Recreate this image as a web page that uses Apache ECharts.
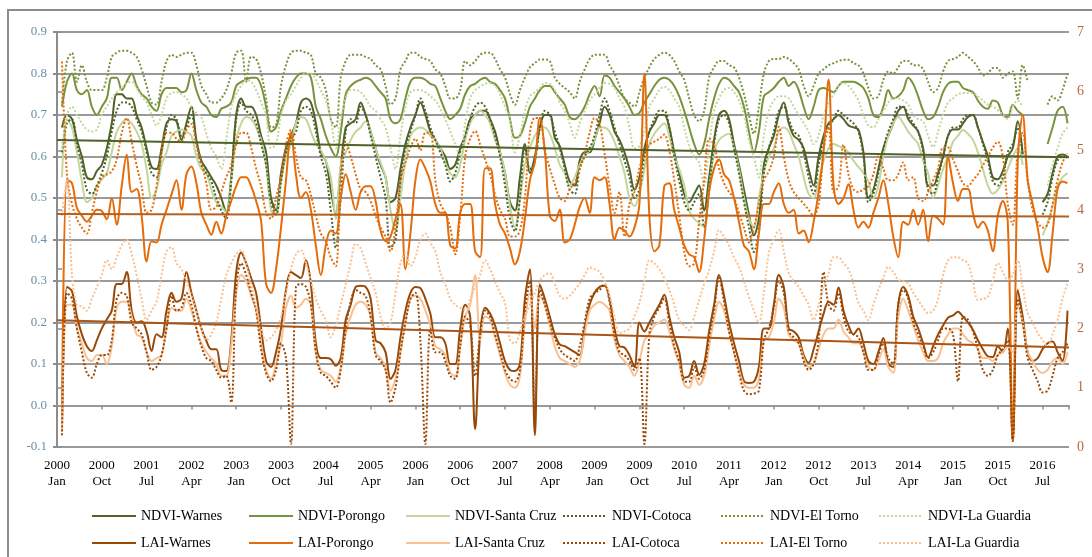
<!DOCTYPE html>
<html>
<head>
<meta charset="utf-8">
<script src="https://cdn.jsdelivr.net/npm/echarts@6/dist/echarts.min.js"></script>
<style>
html, body { margin: 0; padding: 0; background: #ffffff; }
#chart { width: 1092px; height: 557px; }
</style>
</head>
<body>
<div id="chart"></div>
<script>
// Axis tick labels, one every 9 months from January 2000
const tickYears = ['2000','2000','2001','2002','2003','2003','2004','2005','2006','2006','2007','2008',
                   '2009','2009','2010','2011','2012','2012','2013','2014','2015','2015','2016'];
const tickMonths = ['Jan','Oct','Jul','Apr','Jan','Oct','Jul','Apr','Jan','Oct','Jul','Apr',
                    'Jan','Oct','Jul','Apr','Jan','Oct','Jul','Apr','Jan','Oct','Jul'];

// Monthly values, Jan 2000 .. Dec 2016 (one row per year). NDVI on the left axis.
const ndviWarnes = [
null,0.67,0.70,0.69,0.64,0.60,0.55,0.545,0.565,0.58,0.62,0.68,
0.75,0.75,0.74,0.74,0.70,0.67,0.62,0.575,0.57,0.62,0.68,0.69,
0.685,0.64,0.68,0.72,0.64,0.59,0.57,0.55,0.53,0.50,0.465,0.55,
0.70,0.74,0.72,0.72,0.70,0.65,0.61,0.50,0.47,0.56,0.62,0.65,
0.68,0.73,0.74,0.73,0.68,0.61,0.59,0.52,0.46,0.57,0.67,0.68,
0.69,0.73,0.70,0.66,0.62,0.58,0.55,0.49,0.50,0.57,0.63,0.67,
0.70,0.73,0.70,0.66,0.64,0.62,0.60,0.57,0.58,0.62,0.65,0.69,
0.70,0.71,0.71,0.69,0.66,0.61,0.56,0.49,0.47,0.55,0.63,0.56,
0.60,0.67,0.70,0.70,0.645,0.625,0.58,0.54,0.53,0.59,0.61,0.61,
0.64,0.68,0.72,0.70,0.66,0.64,0.61,0.57,0.52,0.55,0.62,0.66,
0.68,0.70,0.70,0.67,0.61,0.56,0.51,0.49,0.51,0.53,0.47,0.55,
0.64,0.70,0.71,0.69,0.63,0.58,0.52,0.46,0.41,0.45,0.58,0.62,
0.65,0.70,0.73,0.68,0.65,0.64,0.62,0.57,0.53,0.60,0.65,0.68,
0.69,0.70,0.69,0.675,0.67,0.665,0.61,0.50,0.52,0.57,0.62,0.65,
0.68,0.71,0.72,0.69,0.675,0.66,0.62,0.53,0.53,0.56,0.60,0.65,
0.665,0.665,0.68,0.695,0.70,0.67,0.635,0.60,0.55,0.545,0.565,0.60,
0.62,0.685,0.605,null,null,null,0.49,0.51,0.56,0.60,0.605,0.60];

const ndviPorongo = [
null,0.72,0.78,0.80,0.76,0.75,0.76,0.72,0.70,0.72,0.74,0.79,
0.79,0.76,0.78,0.80,0.77,0.75,0.74,0.72,0.71,0.75,0.765,0.765,
0.765,0.755,0.76,0.80,0.76,0.73,0.72,0.70,0.695,0.715,0.72,0.73,
0.77,0.78,0.785,0.79,0.79,0.77,0.72,0.66,0.67,0.71,0.74,0.77,
0.79,0.80,0.80,0.79,0.72,0.69,0.65,0.62,0.60,0.66,0.75,0.77,
0.78,0.785,0.79,0.785,0.77,0.755,0.74,0.69,0.68,0.69,0.74,0.78,
0.79,0.79,0.785,0.775,0.77,0.74,0.71,0.69,0.70,0.715,0.75,0.77,
0.775,0.785,0.79,0.78,0.775,0.76,0.74,0.69,0.645,0.65,0.68,0.72,
0.74,0.76,0.77,0.77,0.755,0.74,0.725,0.695,0.69,0.70,0.72,0.75,
0.77,0.745,0.795,0.79,0.77,0.755,0.74,0.72,0.70,0.705,0.73,0.75,
0.77,0.785,0.79,0.785,0.77,0.745,0.71,0.67,0.63,0.605,0.63,0.69,
0.74,0.775,0.79,0.785,0.77,0.755,0.72,0.66,0.61,0.66,0.745,0.755,
0.765,0.78,0.79,0.77,0.78,0.76,0.72,0.69,0.72,0.76,0.765,0.76,
0.755,0.77,0.78,0.78,0.78,0.775,0.765,0.74,0.70,0.695,0.72,0.76,
0.74,0.745,0.76,0.79,0.775,0.745,0.71,0.69,0.695,0.72,0.755,0.775,
0.78,0.78,0.765,0.76,0.755,0.735,0.72,0.715,0.735,0.73,0.70,0.695,
0.725,0.71,0.70,null,null,null,null,0.63,0.67,0.71,0.72,0.68];

const ndviSantaCruz = [
null,0.55,0.69,0.67,0.61,0.54,0.49,0.50,0.53,0.545,0.56,0.61,
0.66,0.68,0.69,0.68,0.66,0.63,0.57,0.50,0.52,0.58,0.61,0.65,
0.66,0.665,0.66,0.65,0.60,0.57,0.56,0.52,0.49,0.48,0.465,0.54,
0.64,0.68,0.695,0.69,0.67,0.64,0.58,0.47,0.46,0.54,0.60,0.63,
0.68,0.695,0.69,0.66,0.63,0.615,0.59,0.55,0.45,0.58,0.61,0.64,
0.66,0.67,0.685,0.66,0.62,0.585,0.55,0.47,0.42,0.50,0.59,0.65,
0.665,0.67,0.665,0.65,0.64,0.62,0.585,0.56,0.55,0.58,0.64,0.68,
0.70,0.71,0.70,0.68,0.64,0.61,0.56,0.48,0.43,0.50,0.58,0.62,
0.65,0.665,0.67,0.655,0.62,0.58,0.56,0.53,0.55,0.58,0.60,0.615,
0.64,0.67,0.67,0.66,0.635,0.60,0.56,0.50,0.48,0.51,0.57,0.63,
0.655,0.67,0.68,0.65,0.60,0.57,0.53,0.47,0.45,0.44,0.43,0.52,
0.61,0.64,0.65,0.655,0.62,0.57,0.50,0.45,0.43,0.50,0.56,0.60,
0.62,0.66,0.67,0.66,0.63,0.60,0.55,0.51,0.50,0.54,0.59,0.62,
0.63,0.625,0.62,0.61,0.59,0.575,0.56,0.54,0.50,0.53,0.60,0.65,
0.68,0.695,0.68,0.66,0.645,0.63,0.59,0.56,0.50,0.53,0.57,0.60,
0.635,0.65,0.664,0.655,0.64,0.61,0.57,0.53,0.51,0.52,0.54,0.57,
0.60,0.62,0.58,null,null,null,0.41,0.44,0.48,0.53,0.55,0.56];

const ndviCotoca = [
null,0.61,0.68,0.69,0.63,0.58,0.52,0.51,0.53,0.56,0.60,0.66,
0.71,0.73,0.73,0.72,0.69,0.66,0.61,0.56,0.55,0.61,0.67,0.70,
0.69,0.65,0.67,0.70,0.63,0.58,0.56,0.54,0.50,0.47,0.45,0.54,
0.69,0.73,0.71,0.70,0.68,0.63,0.58,0.49,0.46,0.54,0.61,0.64,
0.66,0.71,0.72,0.71,0.66,0.60,0.56,0.47,0.38,0.50,0.66,0.69,
0.68,0.72,0.70,0.65,0.60,0.55,0.50,0.38,0.40,0.54,0.62,0.66,
0.70,0.74,0.71,0.67,0.64,0.61,0.58,0.54,0.56,0.61,0.65,0.69,
0.72,0.73,0.72,0.69,0.65,0.60,0.53,0.45,0.42,0.50,0.62,0.57,
0.59,0.67,0.71,0.70,0.66,0.62,0.57,0.52,0.51,0.57,0.60,0.62,
0.65,0.70,0.74,0.71,0.67,0.63,0.59,0.55,0.50,0.52,0.60,0.66,
0.69,0.71,0.71,0.67,0.60,0.54,0.49,0.47,0.49,0.51,0.43,0.52,
0.63,0.69,0.70,0.68,0.62,0.56,0.49,0.43,0.37,0.42,0.56,0.62,
0.66,0.71,0.72,0.69,0.66,0.65,0.61,0.55,0.51,0.58,0.64,0.67,
0.69,0.71,0.70,0.69,0.68,0.66,0.60,0.49,0.51,0.56,0.62,0.66,
0.69,0.72,0.72,0.70,0.68,0.66,0.61,0.52,0.51,0.55,0.60,0.65,
0.67,0.67,0.69,0.70,0.70,0.67,0.63,0.59,0.54,0.53,0.55,0.61,
0.63,0.67,0.60,null,null,null,0.46,0.49,0.55,0.59,0.60,0.60];

const ndviElTorno = [
null,0.73,0.83,0.85,0.78,0.82,0.78,0.76,0.76,0.76,0.79,0.84,
0.85,0.855,0.855,0.85,0.84,0.81,0.77,0.73,0.725,0.78,0.83,0.845,
0.84,0.845,0.85,0.85,0.82,0.77,0.75,0.73,0.73,0.74,0.76,0.80,
0.85,0.855,0.78,0.84,0.835,0.80,0.74,0.67,0.675,0.77,0.82,0.85,
0.855,0.855,0.85,0.845,0.80,0.79,0.76,0.69,0.67,0.79,0.83,0.845,
0.845,0.845,0.84,0.835,0.82,0.81,0.77,0.725,0.74,0.81,0.83,0.85,
0.85,0.84,0.835,0.83,0.81,0.80,0.77,0.74,0.74,0.76,0.83,0.82,
0.83,0.845,0.85,0.85,0.835,0.81,0.79,0.75,0.725,0.76,0.79,0.815,
0.825,0.834,0.834,0.83,0.79,0.775,0.765,0.755,0.74,0.78,0.81,0.835,
0.845,0.845,0.845,0.82,0.80,0.77,0.74,0.73,0.72,0.755,0.79,0.815,
0.835,0.845,0.85,0.845,0.83,0.805,0.785,0.74,0.70,0.685,0.71,0.79,
0.815,0.83,0.83,0.82,0.815,0.79,0.75,0.70,0.655,0.72,0.80,0.83,
0.835,0.835,0.84,0.835,0.825,0.81,0.77,0.745,0.77,0.80,0.81,0.82,
0.825,0.83,0.833,0.833,0.825,0.82,0.80,0.765,0.74,0.745,0.785,0.805,
0.80,0.815,0.83,0.83,0.82,0.82,0.81,0.78,0.755,0.765,0.805,0.83,
0.835,0.84,0.85,0.84,0.83,0.815,0.795,0.80,0.813,0.813,0.79,0.80,
0.805,0.74,0.82,0.78,null,null,null,0.725,0.745,0.735,0.76,0.80];

const ndviLaGuardia = [
null,0.62,0.70,0.72,0.70,0.68,0.665,0.66,0.665,0.70,0.72,0.74,
0.755,0.765,0.777,0.78,0.765,0.745,0.73,0.70,0.675,0.70,0.74,0.753,
0.755,0.75,0.74,0.72,0.705,0.695,0.655,0.62,0.60,0.57,0.64,0.72,
0.75,0.77,0.784,0.78,0.76,0.73,0.70,0.62,0.63,0.70,0.735,0.75,
0.77,0.79,0.80,0.80,0.785,0.76,0.735,0.69,0.62,0.69,0.74,0.76,
0.76,0.755,0.74,0.72,0.71,0.69,0.67,0.62,0.57,0.65,0.72,0.755,
0.76,0.76,0.755,0.745,0.735,0.715,0.69,0.66,0.63,0.60,0.68,0.74,
0.76,0.768,0.775,0.777,0.77,0.75,0.72,0.688,0.61,0.65,0.71,0.745,
0.755,0.765,0.777,0.775,0.76,0.73,0.71,0.68,0.645,0.68,0.71,0.735,
0.75,0.765,0.777,0.775,0.765,0.74,0.72,0.67,0.62,0.625,0.66,0.72,
0.74,0.76,0.768,0.76,0.74,0.72,0.67,0.625,0.60,0.585,0.53,0.62,
0.71,0.74,0.76,0.765,0.755,0.735,0.70,0.64,0.60,0.55,0.65,0.71,
0.735,0.745,0.745,0.74,0.72,0.70,0.68,0.66,0.63,0.65,0.70,0.73,
0.75,0.77,0.777,0.77,0.755,0.735,0.70,0.675,0.67,0.69,0.71,0.73,
0.74,0.74,0.735,0.725,0.70,0.69,0.685,0.65,0.623,0.66,0.70,0.73,
0.74,0.75,0.753,0.753,0.753,0.745,0.735,0.725,0.72,0.712,0.70,0.69,
0.72,0.735,0.72,null,null,null,null,0.53,0.58,0.62,0.655,0.67];

// LAI on the right axis
const laiWarnes = [
null,0.3,2.7,2.63,2.2,1.9,1.7,1.62,1.8,2.0,2.15,2.3,
2.75,2.75,2.95,2.3,2.1,2.12,1.95,1.62,1.9,1.85,2.3,2.6,
2.45,2.5,2.95,2.6,2.3,2.0,1.79,1.65,1.65,1.3,1.28,1.8,
2.95,3.28,3.1,2.85,2.6,2.0,1.45,1.35,1.6,2.0,2.65,2.95,
2.9,2.85,3.15,2.75,1.75,1.5,1.5,1.48,1.37,1.5,2.15,2.4,
2.7,2.72,2.7,2.5,1.8,1.75,1.6,1.15,1.3,1.85,2.3,2.6,
2.7,2.68,2.5,2.25,1.85,1.85,1.75,1.4,1.4,2.0,2.4,2.2,
0.3,1.9,2.35,2.25,2.05,1.75,1.45,1.3,1.28,1.4,2.5,3.0,
0.2,2.74,2.5,2.2,1.9,1.73,1.7,1.65,1.6,1.55,2.0,2.4,
2.6,2.7,2.72,2.5,2.0,1.7,1.68,1.55,1.35,2.1,1.95,2.1,
2.25,2.4,2.57,2.2,1.85,1.6,1.17,1.2,1.45,1.22,1.4,1.95,
2.4,2.9,2.55,2.1,1.75,1.45,1.11,1.08,1.1,1.35,2.0,2.0,
2.4,2.9,2.7,2.0,1.95,1.85,1.55,1.42,1.65,1.95,2.25,2.45,
2.4,2.69,2.3,2.05,1.9,2.0,1.75,1.45,1.4,1.6,1.84,1.4,
1.35,2.4,2.7,2.55,2.2,2.0,1.75,1.51,1.7,1.9,2.05,2.18,
2.22,2.28,2.2,2.1,1.98,1.8,1.65,1.53,1.52,1.7,1.6,2.0,
0.1,2.65,2.2,1.6,1.45,1.5,1.65,1.75,1.78,1.6,1.45,2.3];

const laiPorongo = [
null,0.3,4.5,4.45,4.03,3.9,3.8,3.9,4.0,3.98,3.84,4.2,
3.75,4.4,4.93,4.3,4.35,3.9,3.13,3.47,3.45,3.75,4.0,4.26,
4.5,4.0,4.6,4.73,4.45,3.95,3.75,3.58,3.8,3.6,3.9,4.15,
4.4,4.55,4.55,4.4,4.15,3.81,2.75,2.6,3.0,3.7,4.5,5.3,
4.6,4.2,4.3,4.0,3.4,2.9,3.4,3.65,3.6,4.2,4.6,4.3,
4.0,4.3,4.4,4.4,4.15,3.65,3.47,3.55,3.85,4.1,3.0,3.6,
4.5,4.85,4.7,4.48,4.1,3.95,3.95,3.4,3.35,3.95,4.1,4.1,
3.3,3.2,4.7,4.7,4.1,3.75,3.6,3.35,3.08,3.3,3.85,4.5,
4.8,5.55,5.0,3.9,3.81,4.0,3.45,3.5,3.75,4.05,4.2,3.95,
4.55,4.5,4.55,4.1,3.5,3.7,3.65,3.55,3.7,4.1,6.3,3.9,
3.3,3.4,4.4,4.45,4.0,3.7,3.4,3.25,3.2,2.95,3.5,4.3,
4.7,4.85,4.6,4.5,4.2,3.8,3.4,3.3,3.0,3.6,4.1,4.1,
4.3,4.45,4.1,3.95,4.0,3.6,3.65,3.45,3.8,4.3,5.0,6.2,
4.4,4.1,4.2,4.43,4.0,3.7,3.8,3.7,3.95,4.2,4.5,4.1,
3.55,3.2,3.8,3.75,4.0,3.75,4.0,3.47,3.9,3.85,3.75,4.9,
4.45,4.15,4.35,4.35,3.95,3.7,3.8,3.65,3.3,3.9,4.15,3.8,
0.1,4.8,5.6,4.5,4.1,3.7,3.2,2.95,3.6,4.35,4.48,4.45];

const laiSantaCruz = [
null,0.3,2.4,2.4,2.0,1.75,1.5,1.45,1.55,1.55,1.4,1.7,
2.35,2.45,2.45,2.2,1.9,1.85,1.6,1.45,1.5,1.55,2.0,2.35,
2.3,2.3,2.5,2.3,2.0,1.75,1.6,1.5,1.4,1.2,1.2,1.7,
2.6,2.9,2.8,2.55,2.3,1.75,1.3,1.15,1.4,1.75,2.35,2.55,
2.35,2.4,2.5,2.4,1.6,1.3,1.25,1.2,1.1,1.35,1.9,2.2,
2.4,2.45,2.4,2.2,1.6,1.5,1.35,0.95,1.15,1.6,2.1,2.5,
2.55,2.5,2.3,2.05,1.7,1.65,1.55,1.25,1.2,1.7,2.2,2.4,
2.9,1.8,2.2,2.15,1.85,1.55,1.25,1.05,1.0,1.2,2.1,2.6,
2.0,2.55,2.4,2.05,1.7,1.5,1.45,1.4,1.35,1.45,1.9,2.3,
2.4,2.45,2.4,2.3,1.8,1.55,1.45,1.35,1.2,1.45,1.8,1.9,
2.05,2.1,2.15,1.95,1.65,1.4,1.05,1.0,1.2,1.05,1.2,1.7,
2.15,2.45,2.3,1.95,1.6,1.3,1.05,1.0,1.0,1.15,1.8,1.85,
2.1,2.5,2.35,1.9,1.8,1.75,1.5,1.35,1.4,1.65,1.9,2.0,
2.0,2.15,1.95,1.85,1.75,1.75,1.6,1.35,1.3,1.45,1.65,1.35,
1.25,2.2,2.5,2.3,2.05,1.8,1.6,1.45,1.45,1.5,1.75,1.9,
2.0,2.0,1.9,1.8,1.75,1.65,1.5,1.5,1.45,1.55,1.6,1.7,
1.6,2.4,2.1,1.6,1.45,1.3,1.25,1.3,1.45,1.5,1.4,1.6];

const laiCotoca = [
null,0.2,2.6,2.5,2.0,1.6,1.25,1.17,1.4,1.55,1.55,1.8,
2.5,2.6,2.55,2.1,2.0,1.9,1.6,1.3,1.35,1.55,2.0,2.55,
2.3,2.35,2.6,2.4,2.0,1.7,1.5,1.45,1.3,1.17,1.2,0.75,
2.7,3.1,2.9,2.6,2.3,1.65,1.25,1.11,1.3,1.75,1.5,0.05,
2.7,2.75,2.7,2.4,1.6,1.25,1.2,1.1,1.0,1.3,2.0,2.45,
2.65,2.6,2.55,2.2,1.55,1.45,1.3,0.75,1.0,1.6,2.1,2.5,
2.6,1.8,0.05,2.0,1.6,1.6,1.45,1.2,1.15,1.7,2.2,2.05,
1.2,1.9,2.3,2.2,1.9,1.6,1.3,1.15,1.1,1.3,2.3,2.8,
0.6,2.65,2.4,2.1,1.85,1.65,1.55,1.5,1.45,1.7,2.1,2.5,
2.6,2.65,2.75,2.45,1.9,1.6,1.55,1.45,1.3,1.5,0.05,1.9,
2.2,2.35,2.5,2.1,1.7,1.45,1.11,1.1,1.35,1.15,1.3,1.85,
2.3,2.85,2.45,1.95,1.6,1.25,0.95,0.89,0.9,0.95,1.8,2.0,
2.35,2.8,2.6,1.95,1.85,1.75,1.45,1.3,1.4,1.8,2.95,2.4,
2.3,2.6,2.2,1.95,1.9,1.85,1.6,1.3,1.3,1.55,1.75,1.5,
1.4,2.4,2.65,2.5,2.1,1.9,1.7,1.5,1.6,1.8,2.0,2.0,
1.9,1.11,2.2,2.15,1.95,1.65,1.3,1.2,1.3,1.55,1.65,1.8,
0.1,2.5,2.1,1.5,1.3,1.11,0.92,0.95,1.2,1.5,1.6,1.75];

const laiElTorno = [
null,6.5,4.6,4.1,3.85,3.7,3.6,3.95,4.3,4.55,4.6,4.65,
4.85,5.3,5.55,5.15,4.75,4.4,3.95,4.0,4.4,4.95,5.3,5.3,
5.2,5.15,5.35,5.45,5.1,4.8,4.45,4.0,4.05,4.3,4.55,4.75,
5.1,5.3,5.3,5.05,4.7,4.4,3.95,3.85,4.2,4.55,5.1,5.35,
4.9,4.55,4.5,4.25,3.9,3.6,3.47,3.2,3.05,4.6,5.15,4.9,
4.6,4.35,4.3,4.15,3.9,3.7,3.55,3.3,3.7,4.5,4.8,5.05,
5.2,5.0,5.3,5.3,4.5,4.1,3.95,3.7,3.25,3.9,4.9,5.2,
5.33,5.1,4.85,4.6,4.25,4.0,3.85,3.55,3.55,3.65,4.2,5.3,
5.55,5.55,5.0,4.7,4.43,4.2,4.15,4.35,4.45,4.7,4.95,5.3,
5.55,5.45,4.95,4.4,3.95,4.3,3.55,4.1,4.3,4.7,4.95,5.1,
5.15,5.2,5.27,5.0,4.5,3.9,3.3,3.05,3.1,3.8,4.5,5.2,
5.1,4.7,4.45,4.3,4.2,3.95,3.7,3.45,3.7,4.1,4.5,4.65,
4.9,5.4,4.9,4.5,4.3,4.2,4.1,4.0,3.9,4.1,5.0,5.4,
4.3,4.4,5.1,4.6,4.35,4.3,4.35,4.4,4.6,4.9,4.7,4.5,
4.5,4.6,4.8,4.5,4.55,4.2,4.15,4.3,4.5,4.7,5.05,5.05,
4.85,4.65,4.45,4.4,4.5,4.6,4.75,4.9,5.05,5.15,4.9,4.1,
3.75,5.0,5.3,4.5,4.0,3.8,3.7,3.75,4.1,4.5,4.8,4.95];

const laiLaGuardia = [
null,3.9,4.5,2.9,2.4,2.37,2.3,2.5,2.7,2.9,3.15,3.0,
3.2,3.4,3.5,3.25,2.9,2.5,2.14,2.3,2.45,2.9,3.3,3.37,
3.1,3.0,2.8,2.55,2.3,2.0,1.8,1.9,2.1,2.5,2.9,3.1,
3.25,3.32,3.1,2.75,2.4,2.0,1.8,1.85,1.97,2.2,2.6,3.0,
3.25,3.32,3.1,2.8,2.5,2.3,2.14,1.85,2.05,2.4,2.75,3.1,
3.43,3.35,3.1,2.85,2.6,2.2,2.0,2.1,2.6,3.1,3.27,3.05,
3.2,3.5,3.6,3.45,3.3,2.95,2.75,2.5,2.4,2.35,2.31,2.5,
2.7,2.9,3.15,3.0,2.8,2.6,2.43,1.8,1.75,1.95,2.2,2.4,
2.6,2.8,2.9,2.93,2.75,2.55,2.5,2.55,2.65,2.76,2.9,3.03,
3.0,2.95,2.8,2.55,2.2,1.92,1.95,2.0,2.2,2.43,2.8,3.15,
3.1,3.0,2.85,2.65,2.4,2.14,2.05,1.97,2.2,2.48,2.75,2.99,
3.3,3.66,3.55,3.4,3.2,3.04,2.8,2.53,2.3,2.09,2.6,3.27,
3.5,3.66,3.3,2.93,2.8,2.7,2.55,2.4,2.14,2.4,2.7,2.93,
3.2,3.2,3.1,3.0,2.75,2.43,2.3,2.14,2.4,2.65,2.85,3.04,
2.95,2.82,2.8,2.76,2.6,2.48,2.35,2.26,2.3,2.5,2.9,3.15,
3.2,3.2,3.15,3.1,2.8,2.48,2.5,2.53,2.8,3.1,2.95,2.82,
2.9,3.15,2.7,2.26,2.1,1.92,1.8,1.69,1.9,2.14,2.5,2.76];

// Linear trends: value at the first and at the last month of the axis
const trendSpan = [0, 203.3];
const ndviWarnesTrend = [0.640, 0.598];
const laiPorongoTrend = [3.93, 3.89];
const laiWarnesTrend = [2.14, 1.68];

// Month index from January 2000 for each value
const months = ndviWarnes.map((_, i) => i);

const SERIF = 'Liberation Serif';
const seriesDefs = [
  { name: 'NDVI-Warnes',     data: ndviWarnes,    color: '#4f6228', dotted: false, axis: 0 },
  { name: 'NDVI-Porongo',    data: ndviPorongo,   color: '#77933c', dotted: false, axis: 0 },
  { name: 'NDVI-Santa Cruz', data: ndviSantaCruz, color: '#c3d69b', dotted: false, axis: 0 },
  { name: 'NDVI-Cotoca',     data: ndviCotoca,    color: '#4f6228', dotted: true,  axis: 0 },
  { name: 'NDVI-El Torno',   data: ndviElTorno,   color: '#77933c', dotted: true,  axis: 0 },
  { name: 'NDVI-La Guardia', data: ndviLaGuardia, color: '#c3d69b', dotted: true,  axis: 0 },
  { name: 'LAI-Warnes',      data: laiWarnes,     color: '#984807', dotted: false, axis: 1 },
  { name: 'LAI-Porongo',     data: laiPorongo,    color: '#e46c0a', dotted: false, axis: 1 },
  { name: 'LAI-Santa Cruz',  data: laiSantaCruz,  color: '#fac090', dotted: false, axis: 1 },
  { name: 'LAI-Cotoca',      data: laiCotoca,     color: '#984807', dotted: true,  axis: 1 },
  { name: 'LAI-El Torno',    data: laiElTorno,    color: '#e46c0a', dotted: true,  axis: 1 },
  { name: 'LAI-La Guardia',  data: laiLaGuardia,  color: '#fac090', dotted: true,  axis: 1 }
];

const lineSeries = seriesDefs.map(s => ({
  name: s.name,
  type: 'line',
  xAxisIndex: 0,
  yAxisIndex: s.axis,
  data: months.map((m, i) => [m, s.data[i]]),
  symbol: 'none',
  showSymbol: false,
  smooth: 0.35,
  connectNulls: false,
  lineStyle: { color: s.color, width: 2, type: s.dotted ? [2, 2] : 'solid' },
  itemStyle: { color: s.color },
  emphasis: { disabled: true }
}));

function trendSeries(name, ends, color, axis) {
  return {
    name: name, type: 'line', xAxisIndex: 0, yAxisIndex: axis,
    data: [[trendSpan[0], ends[0]], [trendSpan[1], ends[1]]],
    symbol: 'none', showSymbol: false, z: 5,
    lineStyle: { color: color, width: 2 },
    itemStyle: { color: color },
    emphasis: { disabled: true }
  };
}

// Two legend rows of six fixed-width columns; the icon is the series line only
const legendLefts = [91, 248, 405, 562, 720, 878];
const legendTops = [509, 536];
const legends = seriesDefs.map((s, i) => ({
  data: [s.name],
  left: legendLefts[i % 6],
  top: legendTops[Math.floor(i / 6)],
  orient: 'horizontal',
  padding: 0,
  itemWidth: 44,
  itemHeight: 14,
  selectedMode: false,
  itemStyle: { opacity: 0 },
  textStyle: { fontFamily: SERIF, fontSize: 14, color: '#000000' }
}));

const chart = echarts.init(document.getElementById('chart'), null, { renderer: 'canvas' });
chart.setOption({
  animation: false,
  backgroundColor: '#ffffff',
  graphic: [{
    type: 'rect', silent: true, z: -10,
    shape: { x: 8, y: 10, width: 1200, height: 700 },
    style: { fill: 'none', stroke: '#8c8c8c', lineWidth: 2 }
  }],
  grid: { left: 57, right: 23, top: 32, bottom: 110, containLabel: false, outerBoundsMode: 'none' },
  legend: legends,
  xAxis: [
    {
      type: 'value', min: 0, max: 203.3, interval: 9,
      axisLine: { show: true, onZero: true, onZeroAxisIndex: 0, lineStyle: { color: '#9a9a9a', width: 2 } },
      axisTick: { show: true, length: 4, inside: false, lineStyle: { color: '#8c8c8c', width: 1.5 } },
      axisLabel: { show: false },
      splitLine: { show: false }
    },
    {
      type: 'value', min: 0, max: 203.3, interval: 9, position: 'bottom',
      axisLine: { show: false, onZero: false },
      axisTick: { show: false },
      splitLine: { show: false },
      axisLabel: {
        show: true, margin: 11, fontFamily: SERIF, fontSize: 13, lineHeight: 16, color: '#000000',
        formatter: function (v) {
          const i = Math.round(v / 9);
          if (Math.abs(v - i * 9) > 0.01 || i < 0 || i >= tickYears.length) return '';
          return tickYears[i] + '\n' + tickMonths[i];
        }
      }
    }
  ],
  yAxis: [
    {
      type: 'value', min: -0.1, max: 0.9, interval: 0.1, position: 'left',
      axisLine: { show: true, lineStyle: { color: '#8c8c8c', width: 2 } },
      axisTick: { show: true, length: 4, lineStyle: { color: '#8c8c8c', width: 2 } },
      axisLabel: {
        margin: 10, fontFamily: SERIF, fontSize: 13, color: '#6a8fa5',
        formatter: v => (Math.abs(v) < 1e-9 ? 0 : v).toFixed(1)
      },
      splitLine: { show: true, lineStyle: { color: '#9a9a9a', width: 2 } }
    },
    {
      type: 'value', min: 0, max: 7, interval: 1, position: 'right',
      axisLine: { show: true, lineStyle: { color: '#8c8c8c', width: 2 } },
      axisTick: { show: true, length: 5, lineStyle: { color: '#8c8c8c', width: 1.5 } },
      axisLabel: { margin: 8, fontFamily: SERIF, fontSize: 14, color: '#b86a3c' },
      splitLine: { show: false }
    }
  ],
  series: lineSeries.concat([
    trendSeries('NDVI-Warnes trend', ndviWarnesTrend, '#4f6228', 0),
    trendSeries('LAI-Porongo trend', laiPorongoTrend, '#b5601e', 1),
    trendSeries('LAI-Warnes trend', laiWarnesTrend, '#a85517', 1)
  ])
});
</script>
</body>
</html>
